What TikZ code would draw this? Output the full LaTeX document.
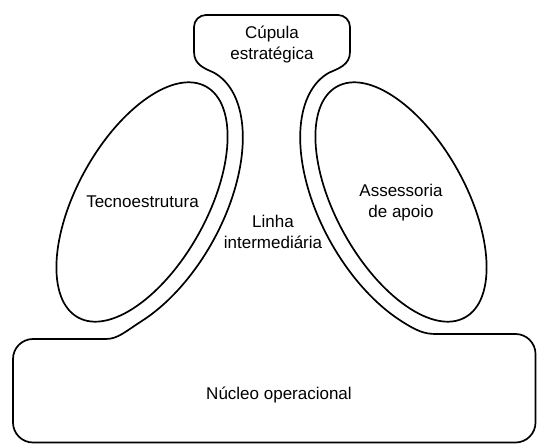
\documentclass[tikz,border=0pt]{standalone}
\usepackage{fontspec}
\setmainfont{Liberation Sans}
\begin{document}
\begin{tikzpicture}[x=1pt,y=1pt,
  outline/.style={draw=black,line width=1.7pt,line join=round},
  unit/.style={draw=black,line width=1.7pt},
  lbl/.style={align=center,font=\fontsize{17}{21}\selectfont,inner sep=0pt}]
\useasboundingbox (0,0) rectangle (537,444);
% outer contour
\draw[outline]
  (194,417) arc[start angle=180,end angle=90,radius=12]
  -- (338,429) arc[start angle=90,end angle=0,radius=12]
  -- (350,392) .. controls (350,379) and (338,375.3) .. (329.25,371.4)
  -- plot[domain=0:-135,samples=60,variable=\t]
     ({401-71.75*cos(\t)+70.84*sin(\t)},{242+129.44*cos(\t)+39.27*sin(\t)})
  .. controls (416.8,113.1) and (424,110) .. (436,110)
  -- (515.5,110) arc[start angle=90,end angle=0,radius=20]
  -- (535.5,21.5) arc[start angle=0,end angle=-90,radius=20]
  -- (33,1.5) arc[start angle=270,end angle=180,radius=20]
  -- (13,85) arc[start angle=180,end angle=90,radius=20]
  -- (106,105) .. controls (118,105) and (126.2,113.1) .. (141.4,122.7)
  -- plot[domain=-135:0,samples=60,variable=\t]
     ({142+71.75*cos(\t)-70.84*sin(\t)},{242+129.44*cos(\t)+39.27*sin(\t)})
  .. controls (205.25,375.3) and (194,379) .. (194,392)
  -- cycle;
% inner units
\draw[unit,rotate around={61:(142,242)}] (142,242) ellipse[x radius=132pt,y radius=65pt];
\draw[unit,rotate around={-61:(401,242)}] (401,242) ellipse[x radius=132pt,y radius=65pt];
% labels
\node[lbl] (cupula) at (272,399) {Cúpula\\estratégica};
\node[lbl] (tecno) at (142.5,242) {Tecnoestrutura};
\node[lbl] (linha) at (273,212) {Linha\\intermediária};
\node[lbl] (assess) at (401,241) {Assessoria\\de apoio};
\node[lbl] (nucleo) at (279,49) {Núcleo operacional};
\end{tikzpicture}
\end{document}
